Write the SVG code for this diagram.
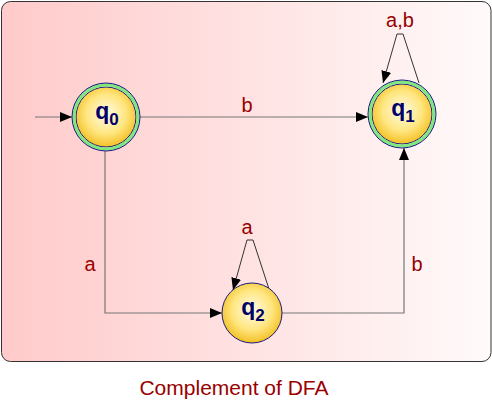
<svg xmlns="http://www.w3.org/2000/svg" width="492" height="402" viewBox="0 0 492 402">
<style>
.lbl{font-family:"Liberation Sans",Arial,sans-serif;font-size:20px;fill:#990000;text-anchor:middle}
.st{font-family:"Liberation Sans",Arial,sans-serif;font-weight:bold;font-size:23px;fill:#000066;text-anchor:middle}
.edge{fill:none;stroke:#777;stroke-width:1.2}
.loop{fill:none;stroke:#333;stroke-width:1}
.ring{fill:none;stroke:#7ee87e;stroke-width:3}
.rb{fill:none;stroke:#1a1a80;stroke-width:1}
.core{fill:url(#yg);stroke:#1a1a80;stroke-width:1}
</style>
<defs>
<linearGradient id="bg" x1="0" y1="0" x2="1" y2="0">
<stop offset="0" stop-color="#ffcaca"/>
<stop offset="1" stop-color="#fffafa"/>
</linearGradient>
<radialGradient id="yg" cx="0.5" cy="0.45" r="0.55">
<stop offset="0" stop-color="#fffbe8"/>
<stop offset="0.6" stop-color="#ffe680"/>
<stop offset="1" stop-color="#f3c024"/>
</radialGradient>
<marker id="ah" markerUnits="userSpaceOnUse" markerWidth="12" markerHeight="10" refX="12" refY="5" orient="auto">
<path d="M0,0 L12,5 L0,10 z" fill="#000"/>
</marker>
</defs>
<rect x="1.5" y="1.5" width="489.5" height="360" rx="9" fill="url(#bg)" stroke="#333" stroke-width="1"/>
<g id="connectors">
<path class="edge" d="M35,117 H72" marker-end="url(#ah)"/>
<path class="edge" d="M140,117 H368" marker-end="url(#ah)"/>
<path class="edge" d="M105,151 V313 H222" marker-end="url(#ah)"/>
<path class="edge" d="M282,313 H404 V148" marker-end="url(#ah)"/>
<path class="loop" d="M269,289 L253,240 L247,240 L233,290" marker-end="url(#ah)"/>
<path class="loop" d="M419,83 L403,34 L397,34 L383,83" marker-end="url(#ah)"/>
<text class="lbl" x="247" y="112">b</text>
<text class="lbl" x="90" y="271">a</text>
<text class="lbl" x="417" y="271">b</text>
<text class="lbl" x="247" y="234">a</text>
<text class="lbl" x="400" y="27">a,b</text>
</g>
<g id="q0">
<circle class="core" cx="106" cy="117" r="30"/>
<circle class="ring" cx="106" cy="117" r="32"/>
<circle class="rb" cx="106" cy="117" r="34"/>
<text class="st" x="107" y="119">q<tspan font-size="17" dy="6">0</tspan></text>
</g>
<g id="q1">
<circle class="core" cx="402" cy="114" r="30"/>
<circle class="ring" cx="402" cy="114" r="32"/>
<circle class="rb" cx="402" cy="114" r="34"/>
<text class="st" x="403" y="116">q<tspan font-size="17" dy="6">1</tspan></text>
</g>
<g id="q2">
<circle class="core" cx="252" cy="313" r="30"/>
<text class="st" x="253" y="315">q<tspan font-size="17" dy="6">2</tspan></text>
</g>
<text class="lbl" x="234" y="395" style="font-size:21px">Complement of DFA</text>
</svg>
